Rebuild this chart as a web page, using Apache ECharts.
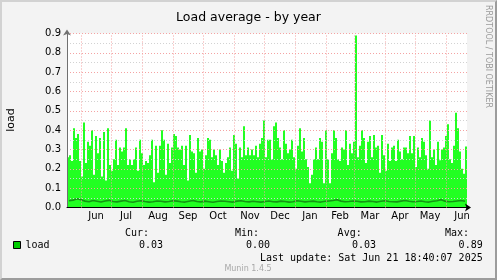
<!DOCTYPE html>
<html><head><meta charset="utf-8">
<script src="https://cdn.jsdelivr.net/npm/echarts@6/dist/echarts.min.js"></script>
<style>
html,body{margin:0;padding:0;background:#fff;}
#frame{position:absolute;left:0;top:0;width:497px;height:280px;box-sizing:border-box;border-top:2px solid #d2d2d2;border-left:2px solid #d2d2d2;border-right:2px solid #9c9c9c;border-bottom:2px solid #9c9c9c;background:#f3f3f3;}
#chart{width:493px;height:276px;}
</style></head><body><div id="frame"><div id="chart"></div></div>
<script>
// ---- data ----
const TITLE = 'Load average - by year';
const SERIES_NAME = 'load';
const Y_NAME = 'load';
const START = Date.UTC(2024, 4, 17, 18, 40);   // left edge of the plot (400 days before last update)
const BUCKET_DAYS = 2;                          // each bar = 2 days
const AVG_STEP_DAYS = 4;                        // each avg point = 4 days
const MONTHS = ['Jan','Feb','Mar','Apr','May','Jun','Jul','Aug','Sep','Oct','Nov','Dec'];
const yTicks = [0, 0.1, 0.2, 0.3, 0.4, 0.5, 0.6, 0.7, 0.8, 0.9];

// peak load per 2-day bucket (bright green area)
const loadMax = [
 0.26,0.27,0.24,0.41,0.36,0.38,0.24,0.16,0.44,0.23,0.34,0.32,0.40,0.17,0.37,0.28,0.36,0.16,0.39,0.14,0.41,0.22,0.19,0.25,0.35,0.22,0.31,0.29,0.31,0.41,0.22,0.25,0.22,
 0.25,0.31,0.19,0.35,0.28,0.22,0.24,0.23,0.27,0.35,0.13,0.32,0.18,0.32,0.40,0.35,0.17,0.33,0.23,0.31,0.38,0.37,0.31,0.30,0.32,0.22,0.32,0.14,0.375,0.29,0.28,0.18,0.36,0.29,
 0.30,0.20,0.27,0.36,0.35,0.26,0.30,0.27,0.22,0.30,0.24,0.18,0.23,0.26,0.31,0.19,0.375,0.33,0.15,0.31,0.26,0.42,0.27,0.31,0.27,0.30,0.27,0.32,0.26,0.33,0.36,0.45,0.26,0.35,
 0.35,0.25,0.42,0.44,0.36,0.31,0.25,0.40,0.33,0.28,0.30,0.35,0.26,0.20,0.32,0.41,0.29,0.36,0.25,0.21,0.125,0.17,0.25,0.31,0.25,0.36,0.34,0.125,0.40,0.25,0.125,0.28,0.40,0.36,
 0.25,0.24,0.31,0.30,0.40,0.22,0.33,0.28,0.34,0.89,0.26,0.32,0.40,0.36,0.23,0.34,0.37,0.26,0.375,0.31,0.32,0.18,0.375,0.27,0.19,0.33,0.24,0.31,0.32,0.24,0.35,0.29,0.25,0.31,
 0.31,0.28,0.37,0.28,0.37,0.21,0.31,0.26,0.36,0.34,0.27,0.20,0.45,0.26,0.30,0.22,0.34,0.245,0.30,0.31,0.37,0.43,0.25,0.23,0.32,0.49,0.41,0.29,0.20,0.175,0.315
];
// average load per 4-day step (dark green line)
const loadAvg = [
 0.035,0.038,0.045,0.040,0.033,0.030,0.036,0.032,0.028,0.034,0.037,0.031,0.029,0.033,0.036,0.030,0.027,0.032,0.035,0.031,
 0.028,0.030,0.034,0.032,0.029,0.031,0.035,0.033,0.030,0.028,0.032,0.036,0.031,0.029,0.033,0.030,0.027,0.031,0.034,0.032,
 0.030,0.028,0.033,0.035,0.031,0.029,0.032,0.030,0.028,0.031,0.034,0.030,0.029,0.033,0.031,0.028,0.030,0.035,0.032,0.029,
 0.031,0.033,0.030,0.028,0.032,0.034,0.036,0.040,0.033,0.030,0.031,0.034,0.032,0.029,0.030,0.033,0.031,0.028,0.032,0.035,
 0.031,0.030,0.029,0.033,0.036,0.032,0.030,0.031,0.034,0.030,0.028,0.032,0.035,0.040,0.033,0.030,0.031,0.034,0.036,0.032
];
const statLabels = ['Cur:', 'Min:', 'Avg:', 'Max:'];
const statValues = ['0.03', '0.00', '0.03', '0.89'];
const LAST_UPDATE = 'Last update: Sat Jun 21 18:40:07 2025';
const VERSION = 'Munin 1.4.5';
const WATERMARK = 'RRDTOOL / TOBI OETIKER';

// ---- derived categories ----
const DAY = 86400000, BMS = BUCKET_DAYS * DAY;
function iso(t){ const d = new Date(t); return d.getUTCFullYear()+'-'+String(d.getUTCMonth()+1).padStart(2,'0')+'-'+String(d.getUTCDate()).padStart(2,'0'); }
const categories = loadMax.map((_, i) => iso(START + i * BMS));
const SPAN_DAYS = categories.length * BUCKET_DAYS;
const END = START + SPAN_DAYS * DAY;
const monthEdges = [];            // day offsets of the 1st of each month
const labelIdx = new Map();       // bar index at mid-month -> month name
{
  let y = 2024, m = 5;
  while (true) {
    const t0 = Date.UTC(y, m, 1), t1 = Date.UTC(m === 11 ? y + 1 : y, (m + 1) % 12, 1);
    if (t0 > END) break;
    if (t0 > START) monthEdges.push((t0 - START) / DAY);
    const mid = (t0 + t1) / 2;
    if (mid > START && mid < END) labelIdx.set(Math.floor((mid - START) / BMS), MONTHS[m]);
    m++; if (m === 12) { m = 0; y++; }
  }
}
const avgData = loadAvg.map((v, i) => [i * AVG_STEP_DAYS + AVG_STEP_DAYS / 2, v]);

const chart = echarts.init(document.getElementById('chart'), null, {renderer: 'canvas'});
const SANS = 'DejaVu Sans', MONO = 'DejaVu Sans Mono';
const statX = [147, 257, 359.7, 467], valX = [161, 268, 374, 480.7];
function txt(x, y, text, font, fill, align, valign, extra) {
  return Object.assign({type:'text', x, y, silent:true, style:{text, font, fill, align, verticalAlign: valign, textAlign: align, textVerticalAlign: valign}}, extra || {});
}
const graphics = [
  txt(9.5, 118, Y_NAME, '11px "DejaVu Sans"', '#000', 'center', 'middle', {rotation: Math.PI/2}),
  txt(490, 3, WATERMARK, '8px "DejaVu Sans"', '#9a9a9a', 'left', 'top', {rotation: -Math.PI/2}),
  txt(480.7, 256, LAST_UPDATE, '10px "DejaVu Sans Mono"', '#000', 'right', 'middle'),
  txt(246, 267, VERSION, '8px "DejaVu Sans"', '#a8a8a8', 'center', 'middle')
];
statLabels.forEach((s, i) => {
  graphics.push(txt(statX[i], 231, s, '10px "DejaVu Sans Mono"', '#000', 'right', 'middle'));
  graphics.push(txt(valX[i], 243, statValues[i], '10px "DejaVu Sans Mono"', '#000', 'right', 'middle'));
});

const gridLineStyle = {color: '#f4a3a3', type: [1, 2], width: 1};
const option = {
  animation: false,
  backgroundColor: '#f3f3f3',
  title: {text: TITLE, left: 'center', top: 4, textStyle: {fontFamily: SANS, fontSize: 12.5, fontWeight: 'normal', color: '#000'}},
  grid: {left: 65, top: 31.5, right: 28, bottom: 70.5, show: true, backgroundColor: '#fff', borderWidth: 0},
  legend: {
    left: 11, top: 238, itemWidth: 7, itemHeight: 7, itemGap: 5, selectedMode: false, padding: 0,
    data: [{name: SERIES_NAME, icon: 'rect', itemStyle: {color: '#00cc00', borderColor: '#000', borderWidth: 1}}],
    textStyle: {fontFamily: MONO, fontSize: 10, color: '#000', lineHeight: 10}
  },
  xAxis: [{
    type: 'category', data: categories, boundaryGap: true, z: 4,
    axisLine: {show: true, onZero: false, lineStyle: {color: '#000', width: 1}, symbol: ['none', 'arrow'], symbolSize: [6, 6], symbolOffset: [0, 4]},
    axisTick: {show: false},
    axisLabel: {interval: (i) => labelIdx.has(i), formatter: (v, i) => labelIdx.get(i) || '', fontFamily: SANS, fontSize: 10, color: '#000', margin: 4},
    splitLine: {show: false}
  }, {
    type: 'value', min: 0, max: SPAN_DAYS, show: false, splitLine: {show: false}
  }],
  yAxis: {
    type: 'value', min: yTicks[0], max: yTicks[yTicks.length - 1], interval: 0.1, z: 4,
    axisLine: {show: true, lineStyle: {color: '#707070', width: 1}, symbol: ['none', 'arrow'], symbolSize: [6, 6], symbolOffset: [0, 4]},
    axisTick: {show: false},
    axisLabel: {formatter: (v) => v.toFixed(1), fontFamily: SANS, fontSize: 10, color: '#000', margin: 6},
    splitLine: {show: true, lineStyle: gridLineStyle},
    minorTick: {show: false, splitNumber: 2},
    minorSplitLine: {show: true, lineStyle: {color: '#d2d2d2', type: [1, 2], width: 1}}
  },
  series: [
    {name: SERIES_NAME, type: 'bar', data: loadMax, barCategoryGap: 0, barGap: 0, itemStyle: {color: '#22ff22'}, silent: true, z: 2},
    {name: 'avg', type: 'line', xAxisIndex: 1, data: avgData, symbol: 'none', lineStyle: {color: '#149614', width: 1.6}, silent: true, z: 3,
     markLine: {silent: true, symbol: ['none', 'none'], label: {show: false}, lineStyle: gridLineStyle, emphasis: {disabled: true},
                data: monthEdges.map(d => ({xAxis: d}))}}
  ],
  graphic: graphics
};
chart.setOption(option);
</script></body></html>
